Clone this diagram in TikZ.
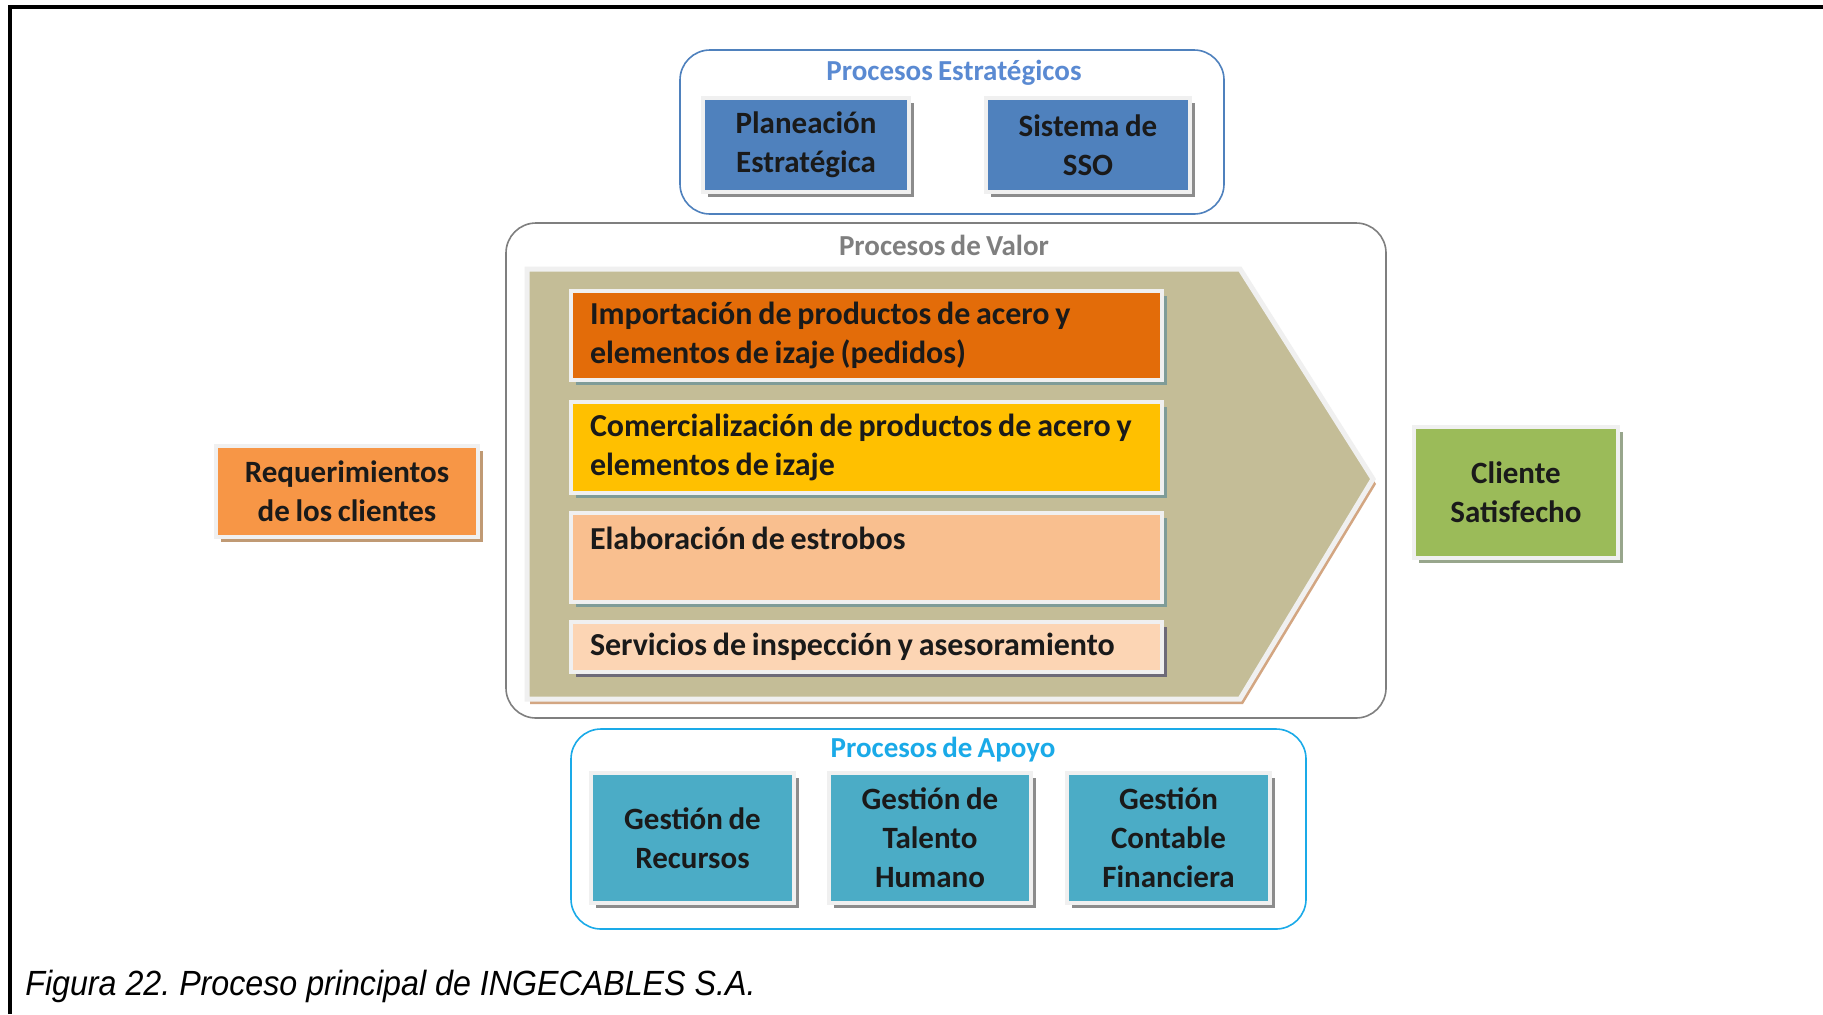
\documentclass[tikz,border=0pt]{standalone}
\usepackage{fontspec}
\setmainfont{Carlito}[WordSpace=0.8]
\newfontfamily\capfont{Liberation Sans}
\usetikzlibrary{shadows}
\definecolor{stratblue}{HTML}{4F81BD}
\definecolor{strattitle}{HTML}{5A8AD2}
\definecolor{impor}{HTML}{E36C09}
\definecolor{comer}{HTML}{FFC000}
\definecolor{elab}{HTML}{F9BF8F}
\definecolor{serv}{HTML}{FCD5B4}
\definecolor{reqor}{HTML}{F79646}
\definecolor{clgreen}{HTML}{9BBB59}
\definecolor{apoyo}{HTML}{4BACC6}
\definecolor{apoyotitle}{HTML}{1AAAE8}
\definecolor{valtitle}{HTML}{7F7F7F}
\definecolor{chev}{HTML}{C4BD97}
\definecolor{chevshadow}{HTML}{D3A682}
\definecolor{framegray}{HTML}{F0F0F0}
\definecolor{shgray}{HTML}{8C8C8C}
\definecolor{shteal}{HTML}{7F9C98}
\definecolor{shtan}{HTML}{C09A74}
\definecolor{shgreen}{HTML}{98A68C}
\definecolor{shpurple}{HTML}{6E6A78}
\definecolor{txt}{HTML}{1A1A1A}
\frenchspacing
\newcommand{\natsp}{\spaceskip=0pt\xspaceskip=0pt\relax}
\begin{document}
\begin{tikzpicture}[x=0.5pt,y=-0.5pt,
  font=\bfseries\fontsize{15.5}{19.5}\selectfont,
  pbox/.style 2 args={rectangle, fill=#1, draw=framegray, line width=2.4pt,
     drop shadow={shadow xshift=2.4pt, shadow yshift=-2.7pt, fill=#2, opacity=1},
     align=center, text=txt, inner sep=0pt},
  bar/.style 2 args={pbox={#1}{#2}, align=left, text width=276.5pt, inner xsep=9.5pt,
     minimum width=295.5pt, font=\bfseries\fontsize{16}{19.5}\selectfont},
  container/.style={rectangle, rounded corners=15pt, line width=0.8pt, fill=white, inner sep=0pt},
  ctitle/.style={font=\bfseries\fontsize{14.5}{17}\selectfont, inner sep=0pt}]
\useasboundingbox (0,0) rectangle (1823,1014);
\fill[white] (0,0) rectangle (1823,1014);
% frame
\draw[line width=1.6pt] (10,1014) -- (10,7) -- (1823,7);

% Procesos Estrategicos
\node[container, draw=stratblue, minimum width=272pt, minimum height=82pt] (estr) at (952,132) {};
\node[ctitle, text=strattitle] (estrt) at (954,73) {Procesos Estratégicos};
\node[pbox={stratblue}{shgray}, minimum width=103pt, minimum height=47pt] (plan) at (806,145) {Planeación\\Estratégica};
\node[pbox={stratblue}{shgray}, minimum width=102pt, minimum height=47pt] (sso) at (1088,145) {Sistema de\\SSO};

% Procesos de Valor
\node[container, draw=valtitle, minimum width=440pt, minimum height=247.5pt] (valor) at (946,470.5) {};
\node[ctitle, text=valtitle] (valort) at (944,245) {Procesos de Valor};
\path[fill=chev, draw=framegray, line width=2.5pt,
  drop shadow={shadow xshift=1.5pt, shadow yshift=-2.5pt, fill=chevshadow, opacity=1}]
  (527,269) -- (1240,269) -- (1373,479) -- (1240,699) -- (527,699) -- cycle;
\node[bar={impor}{shteal}, minimum height=44.5pt] (imp) at (866.5,335.5)
  {\natsp Importación de productos de acero y\\elementos de izaje (pedidos)};
\node[bar={comer}{shteal}, minimum height=45.5pt] (com) at (866.5,447.5)
  {\natsp Comercialización de productos de acero y\\elementos de izaje};
\node[bar={elab}{shteal}, minimum height=44.5pt] (ela) at (866.5,557.5)
  {\natsp Elaboración de estrobos\\\mbox{}};
\node[bar={serv}{shpurple}, minimum height=25pt] (ser) at (866.5,647)
  {\natsp Servicios de inspección y asesoramiento};

% lateral boxes
\node[pbox={reqor}{shtan}, minimum width=131pt, minimum height=45.5pt] (req) at (347,491.5)
  {Requerimientos\\de los clientes};
\node[pbox={clgreen}{shgreen}, minimum width=102pt, minimum height=65.5pt] (cli) at (1516,492.5)
  {Cliente\\Satisfecho};

% Procesos de Apoyo
\node[container, draw=apoyotitle, minimum width=367.5pt, minimum height=100pt] (apo) at (938.5,829) {};
\node[ctitle, text=apoyotitle] (apot) at (943,750) {Procesos de Apoyo};
\node[pbox={apoyo}{shgray}, minimum width=101.5pt, minimum height=65pt] (rec) at (692.5,838)
  {Gestión de\\Recursos};
\node[pbox={apoyo}{shgray}, minimum width=101pt, minimum height=65pt] (tal) at (930,838)
  {Gestión de\\Talento\\Humano};
\node[pbox={apoyo}{shgray}, minimum width=101.5pt, minimum height=65pt] (con) at (1168.5,838)
  {Gestión\\Contable\\Financiera};

% caption
\node[anchor=base west, inner sep=0pt, xscale=0.92, font=\capfont\itshape\fontsize{17.5}{20}\selectfont] (cap) at (25,995)
  {Figura 22. Proceso principal de INGECABLES S.A.};
\end{tikzpicture}
\end{document}
